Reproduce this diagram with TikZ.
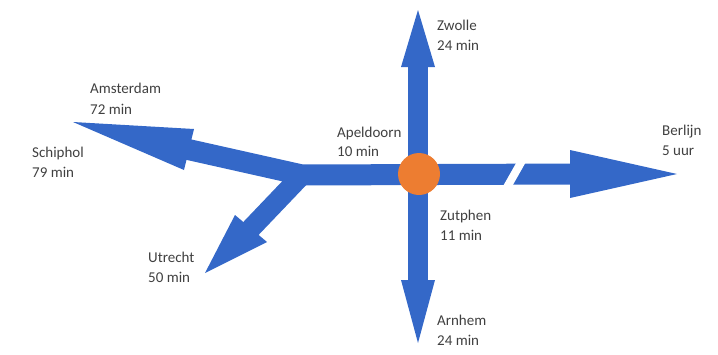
\documentclass[tikz,border=0pt]{standalone}
\usepackage{fontspec}
\setmainfont{Carlito}
\usetikzlibrary{calc}
\definecolor{roadblue}{RGB}{52,104,200}
\definecolor{hub}{RGB}{237,125,49}
\definecolor{txt}{RGB}{64,64,64}
\begin{document}
\begin{tikzpicture}[x=1pt,y=-1pt,
  shaft/.style={draw=roadblue,line width=21pt,line join=miter},
  head/.style={fill=roadblue},
  lbl/.style={anchor=base west,inner sep=0pt,font=\fontsize{15}{20}\selectfont,text=txt}]
\useasboundingbox (0,0) rectangle (718,354);
% key points
\coordinate (j) at (302,175);
% Amsterdam / Schiphol arrow
\coordinate (tA) at (73,122);
\coordinate (bA) at (186,149);
\coordinate (a1) at (194,129);
\coordinate (a2) at (184,170);
% Utrecht arrow
\coordinate (tU) at (205,273);
\coordinate (bU) at (249,230.5);
\coordinate (u1) at (235,215);
\coordinate (u2) at (267,242);
% Zwolle arrow
\coordinate (tZ) at (418,10);
\coordinate (bZ) at (418,64);
\coordinate (z1) at (401,67);
\coordinate (z2) at (435,67);
% Arnhem arrow
\coordinate (tN) at (418,343);
\coordinate (bN) at (418,283);
\coordinate (n1) at (401,280);
\coordinate (n2) at (435,280);
% Berlijn arrow
\coordinate (tB) at (677,174);
\coordinate (bB) at (573,174);
\coordinate (b1) at (570,150);
\coordinate (b2) at (570,198);
% gap in the Berlijn road
\coordinate (g1) at (523,159);
\coordinate (g2) at (506,189);
% shafts
\draw[shaft] (bA) -- (j) -- (bB);
\draw[shaft,line width=20pt] (bU) -- (j);
\draw[shaft,line width=20pt] (bZ) -- (bN);
% heads
\fill[head] (tA) -- (a1) -- (a2) -- cycle;
\fill[head] (tU) -- (u1) -- (u2) -- cycle;
\fill[head] (tZ) -- (z1) -- (z2) -- cycle;
\fill[head] (tN) -- (n1) -- (n2) -- cycle;
\fill[head] (tB) -- (b1) -- (b2) -- cycle;
% gap
\draw[white,line width=8pt] (g1) -- (g2);
% hub
\node[circle,fill=hub,minimum size=42pt,inner sep=0pt] (hub) at (419,174) {};
% labels
\node[lbl] (ams) at (90,93) {Amsterdam};
\node[lbl] (amsT) at (90,114) {72 min};
\node[lbl] (sch) at (32,157) {Schiphol};
\node[lbl] (schT) at (32,177) {79 min};
\node[lbl] (utr) at (148,262) {Utrecht};
\node[lbl] (utrT) at (148,282) {50 min};
\node[lbl] (ape) at (337,137) {Apeldoorn};
\node[lbl] (apeT) at (337,156) {10 min};
\node[lbl] (zwo) at (437,30) {Zwolle};
\node[lbl] (zwoT) at (437,50) {24 min};
\node[lbl] (ber) at (662,135) {Berlijn};
\node[lbl] (berT) at (662,155) {5 uur};
\node[lbl] (zut) at (440,220) {Zutphen};
\node[lbl] (zutT) at (440,240) {11 min};
\node[lbl] (arn) at (437,325) {Arnhem};
\node[lbl] (arnT) at (437,345) {24 min};
\end{tikzpicture}
\end{document}
